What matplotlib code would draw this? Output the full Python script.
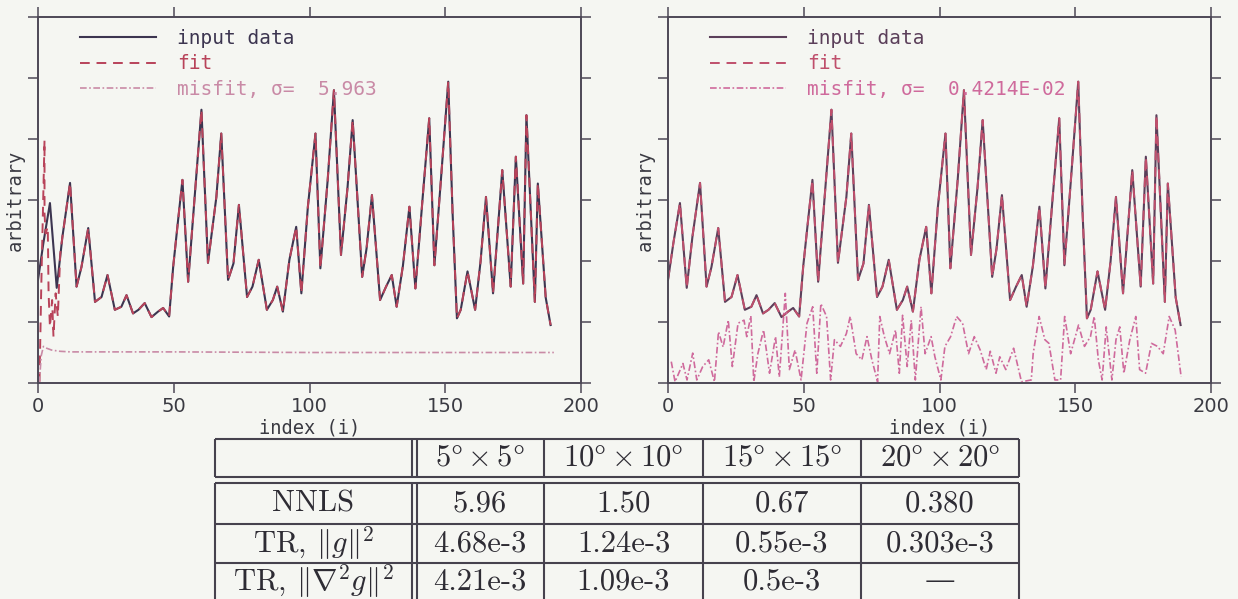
import matplotlib
matplotlib.use("Agg")
import matplotlib.pyplot as plt

# input data (same curve in both panels)
data_idx = [0, 2, 4.4, 6.9, 9, 11.8, 14.2, 16, 18.5, 21, 23.4, 25.6, 28.3, 30.7, 32.6,
            35, 37, 39.3, 41.8, 44.2, 46.1, 48.3, 49.8, 51.6, 53.2, 55.3, 57.7, 60.2,
            62.6, 65.7, 67.5, 70, 72, 74, 77, 79, 81.3, 84.3, 86.5, 88.1, 90.2, 92.6,
            95.1, 97, 99.4, 102.2, 104, 106.7, 109, 111.6, 114, 115.9, 119.4, 121, 123,
            126, 128.2, 130.3, 132.1, 134.4, 136.8, 139, 141.7, 144.1, 146, 148.4, 151.1,
            152.7, 154.3, 155.7, 158.2, 161, 163, 165, 167.6, 171, 174.1, 176, 178.7,
            179.9, 183, 184.1, 187, 188.8]
data_val = [1.69, 2.3, 2.95, 1.56, 2.4, 3.28, 1.58, 1.9, 2.54, 1.33, 1.41, 1.77, 1.2, 1.25, 1.44,
            1.14, 1.2, 1.31, 1.08, 1.17, 1.23, 1.09, 1.91, 2.67, 3.33, 1.66, 3.05, 4.48,
            1.97, 3.05, 4.09, 1.69, 1.96, 2.92, 1.41, 1.58, 2.02, 1.2, 1.36, 1.58, 1.17, 2.02,
            2.56, 1.47, 2.89, 4.09, 1.88, 3.33, 4.80, 2.10, 3.2, 4.31, 1.74, 2.2, 3.08,
            1.36, 1.58, 1.77, 1.25, 1.92, 2.89, 1.55, 3.05, 4.34, 1.93, 3.33, 4.94,
            2.79, 1.06, 1.2, 1.83, 1.2, 1.99, 3.05, 1.47, 3.49, 1.58, 3.71, 1.63,
            4.39, 1.33, 3.27, 1.4, 0.95]

# NNLS fit (left): wild start, then on top of the data
fit_left_head_idx = [0.55, 1.2, 2.4, 2.4, 2.8, 3.6, 3.9, 4.4, 5.2, 5.7, 6.5, 7.3, 8.2]
fit_left_head_val = [0.02, 1.58, 3.98, 2.78, 2.45, 2.56, 1.47, 0.92, 1.36, 0.76, 1.47, 1.09, 2.12]
fit_left_idx = fit_left_head_idx + [i for i in data_idx if i >= 9]
fit_left_val = fit_left_head_val + [v for i, v in zip(data_idx, data_val) if i >= 9]

misfit_left_idx = [0.5, 0.8, 1.2, 2.0, 3.2, 5, 8, 12, 20, 50, 100, 150, 190]
misfit_left_val = [0.0, 0.2, 0.45, 0.6, 0.57, 0.54, 0.52, 0.51, 0.51, 0.51, 0.5, 0.5, 0.5]

# TR fit (right) coincides with the data
fit_right_idx = data_idx
fit_right_val = data_val

misfit_right_idx = [1.2, 2.6, 5.5, 7, 9.1, 10.6, 12.8, 15, 17.1, 18.6, 20.3, 22.2, 23.7, 25.8,
                    28, 29, 30.5, 31.6, 33.1, 35.2, 37.4, 39.6, 41, 43.2, 44.7, 46.8, 49,
                    51.2, 53.3, 54.8, 56.3, 58.4, 59.9, 61.3, 63.5, 65.7, 67.1, 69.3, 71.4,
                    73.3, 75.1, 77.2, 78, 79.7, 81.6, 83.8, 85.2, 86.4, 88.1, 89.6, 91.1,
                    93.2, 94.7, 96.9, 98.3, 100.5, 102, 104.1, 106.3, 108.5, 110.7, 112.8,
                    115, 117.2, 118.7, 120.8, 122.2, 124.4, 127.3, 130.2, 133.8, 134.5,
                    136.7, 138.8, 140.3, 142.5, 144.6, 146.1, 148.3, 151.2, 153.4, 155.6,
                    157, 158.5, 159.9, 161.4, 163.5, 165, 166.4, 167.9, 170.1, 172.3,
                    173.7, 175.9, 178.1, 180.3, 182.4, 184.6, 186.8, 189]
misfit_right_val = [0.35, 0.02, 0.32, 0.05, 0.49, 0.05, 0.27, 0.38, 0.02, 0.84, 0.59, 1.03, 0.27, 0.98,
                    1.03, 0.76, 1.10, 0.02, 0.48, 0.87, 0.16, 0.76, 0.1, 1.47, 0.22, 0.54, 0.05,
                    0.98, 1.25, 0.16, 1.30, 1.09, 0.05, 0.71, 0.60, 0.81, 1.09, 0.48, 0.38,
                    0.76, 0.38, 0.02, 1.09, 0.76, 0.48, 0.87, 0.16, 1.11, 0.27, 1.03, 0.05,
                    1.25, 0.48, 0.76, 0.43, 0.05, 0.60, 0.76, 1.09, 0.98, 0.48, 0.76,
                    0.54, 0.22, 0.52, 0.16, 0.43, 0.22, 0.57, 0.02, 0.05, 0.48,
                    1.09, 0.71, 0.65, 0.05, 0.05, 1.09, 0.48, 0.95, 0.60, 0.76,
                    1.09, 0.38, 0.05, 0.92, 0.05, 0.71, 0.92, 0.16, 0.71, 1.09,
                    0.22, 0.16, 0.65, 0.60, 0.48, 1.09, 0.87, 0.1]

sigma_labels = ["misfit, \u03c3=  5.963", "misfit, \u03c3=  0.4214E-02"]

col_labels = [r"$5\degree\times5\degree$", r"$10\degree\times10\degree$",
              r"$15\degree\times15\degree$", r"$20\degree\times20\degree$"]
row_labels = ["NNLS", r"TR, $\Vert g\Vert^2$", r"TR, $\Vert\nabla^2 g\Vert^2$"]
row_nnls = ["5.96", "1.50", "0.67", "0.380"]
row_tr_g = ["4.68e-3", "1.24e-3", "0.55e-3", "0.303e-3"]
row_tr_lap = ["4.21e-3", "1.09e-3", "0.5e-3", "\u2014"]

plt.rcParams["mathtext.fontset"] = "cm"
bg = "#f5f6f2"
ink = "#4d4856"
W, H = 1238, 599
fig = plt.figure(figsize=(W / 100, H / 100), dpi=100, facecolor=bg)

panels = [
    (38, fit_left_idx, fit_left_val, misfit_left_idx, misfit_left_val, sigma_labels[0],
     "#3c3550", "#b8435a", "#c98aa6"),
    (668, fit_right_idx, fit_right_val, misfit_right_idx, misfit_right_val, sigma_labels[1],
     "#5b3f5a", "#bf4f6c", "#cf6a9c"),
]
for x0, f_idx, f_val, m_idx, m_val, mlabel, c_data, c_fit, c_mis in panels:
    ax = fig.add_axes([x0 / W, (H - 383) / H, 543 / W, 366 / H], facecolor=bg)
    l1, = ax.plot(data_idx, data_val, color=c_data, lw=1.5, label="input data")
    l2, = ax.plot(f_idx, f_val, color=c_fit, lw=1.4, dashes=(5, 3.5), label="fit")
    l3, = ax.plot(m_idx, m_val, color=c_mis, lw=1.2, linestyle=(0, (4, 1.5, 1, 1.5)),
                  label=mlabel)
    ax.set_xlim(0, 200)
    ax.set_ylim(0, 6)
    ax.set_xticks([0, 50, 100, 150, 200])
    ax.set_yticks(range(7))
    ax.set_yticklabels([])
    ax.tick_params(direction="out", length=7, width=1.1, color=ink, labelsize=14,
                   labelcolor="#3a3a42", top=True, right=True, pad=3)
    for s in ax.spines.values():
        s.set_color(ink)
        s.set_linewidth(1.4)
    ax.set_xlabel("index (i)", family="DejaVu Sans Mono", fontsize=13.5, color="#3a3a42")
    ax.set_ylabel("arbitrary", family="DejaVu Sans Mono", fontsize=13.5, color="#3a3a42")
    ax.xaxis.set_label_coords(0.5, -0.097)
    ax.yaxis.set_label_coords(-0.024, 0.5)
    leg = ax.legend(handles=[l1, l2, l3], loc="upper left", bbox_to_anchor=(0.077, 0.967),
                    frameon=False, borderpad=0, borderaxespad=0, handlelength=3.9,
                    handletextpad=1.1, labelspacing=0.33,
                    prop={"family": "DejaVu Sans Mono", "size": 14})
    for t, c in zip(leg.get_texts(), [c_data, c_fit, c_mis]):
        t.set_color(c)

# table, drawn in figure pixel space
tab = fig.add_axes([0, 0, 1, 1], facecolor="none")
tab.set_xlim(0, W)
tab.set_ylim(H, 0)
tab.axis("off")
col_edges = [215, 412, 544, 703, 861, 1019]
head_top, head_bot = 439, 477
body_top = 483
row_edges = [483, 524, 563, 600]
lc = "#46424e"
kw = dict(color=lc, lw=1.5, solid_capstyle="butt")
for top, bot in [(head_top, head_bot), (body_top, row_edges[-1] + 5)]:
    tab.plot([col_edges[0], col_edges[-1]], [top, top], **kw)
    tab.plot([col_edges[0], col_edges[-1]], [bot, bot], **kw)
    for x in col_edges:
        tab.plot([x, x], [top, bot], **kw)
    tab.plot([col_edges[1] + 4.5, col_edges[1] + 4.5], [top, bot], **kw)
for y in row_edges[1:-1]:
    tab.plot([col_edges[0], col_edges[-1]], [y, y], **kw)

tfont = dict(family=["cmr10", "DejaVu Serif"], fontsize=22, color="#2e2c34",
             ha="center", va="center")
for j, lab in enumerate(col_labels):
    cx = (col_edges[j + 1] + col_edges[j + 2]) / 2 + (2 if j == 0 else 0)
    tab.text(cx, (head_top + head_bot) / 2, lab, **tfont)
for i, (lab, vals) in enumerate(zip(row_labels, [row_nnls, row_tr_g, row_tr_lap])):
    cy = (row_edges[i] + row_edges[i + 1]) / 2
    tab.text((col_edges[0] + col_edges[1]) / 2, cy, lab, **tfont)
    for j, v in enumerate(vals):
        cx = (col_edges[j + 1] + col_edges[j + 2]) / 2 + (2 if j == 0 else 0)
        tab.text(cx, cy, v, **tfont)

fig.savefig("out.png", dpi=100, facecolor=bg)
